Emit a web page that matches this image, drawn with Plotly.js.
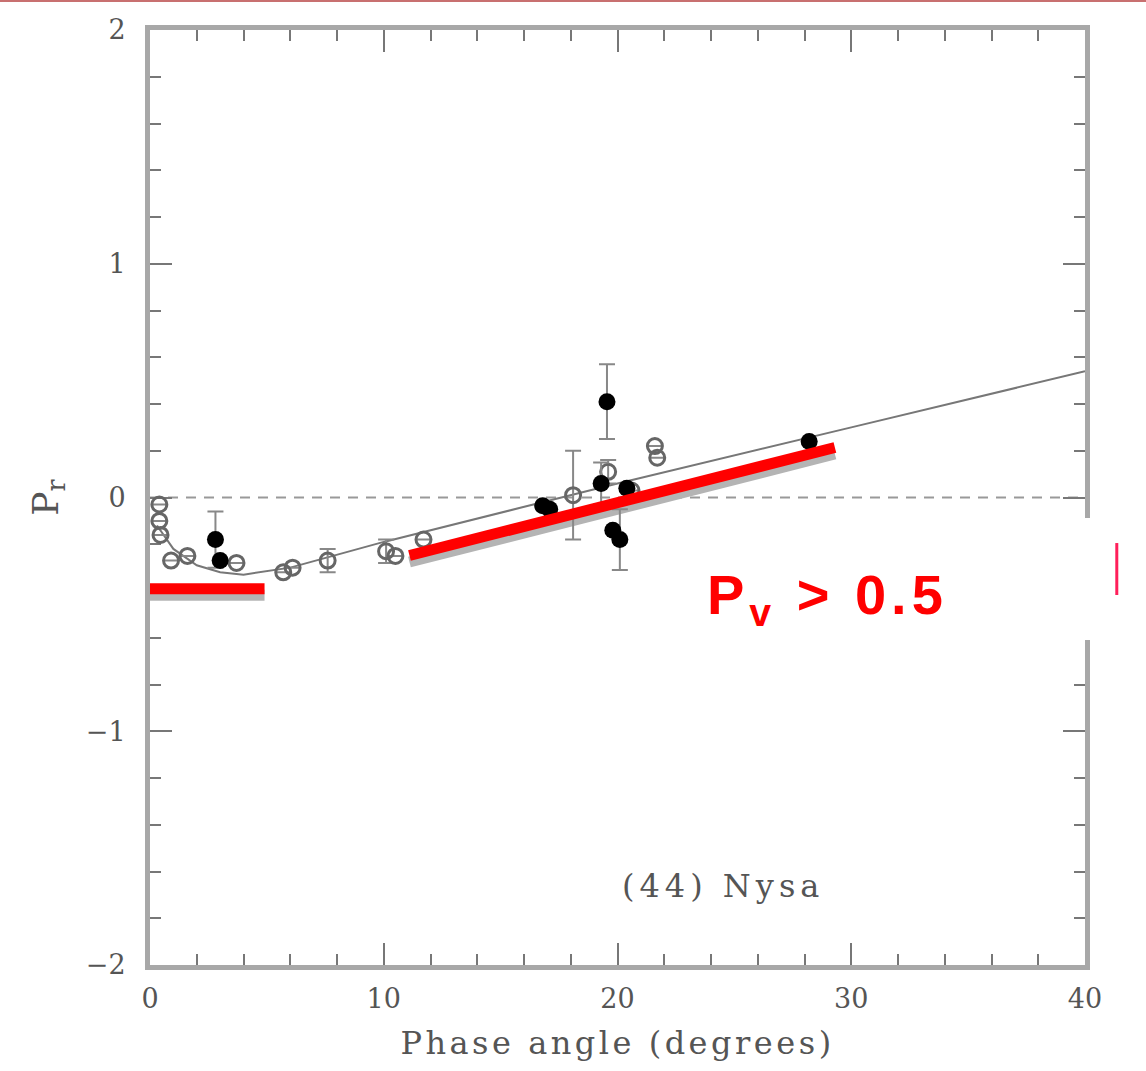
<!DOCTYPE html>
<html>
<head>
<meta charset="utf-8">
<script src="https://cdn.plot.ly/plotly-3.0.1.min.js"></script>
<style>
html,body{margin:0;padding:0;background:#fff;}
#chart{width:1146px;height:1071px;}
.xtitle{letter-spacing:3.5px;}
.annotation-text{letter-spacing:5px;}
</style>
</head>
<body>
<div id="chart"></div>
<script>
// Open-symbol observations (phase angle deg, Pr %, error)
const openX   = [0.4, 0.4, 0.45, 0.9, 1.6, 3.7, 5.7, 6.1, 7.6, 10.1, 10.5, 11.7, 18.1, 19.6, 20.6, 21.6, 21.7];
const openY   = [-0.03, -0.10, -0.16, -0.27, -0.25, -0.28, -0.32, -0.30, -0.27, -0.23, -0.25, -0.18, 0.01, 0.11, 0.03, 0.22, 0.17];
const openErr = [0, 0, 0, 0, 0, 0, 0, 0, 0.05, 0.05, 0, 0, 0.19, 0.05, 0, 0, 0];

// Filled-symbol observations
const fillX   = [2.8, 3.0, 16.8, 17.1, 19.55, 19.3, 20.4, 19.8, 20.1, 28.2];
const fillY   = [-0.18, -0.27, -0.035, -0.05, 0.41, 0.06, 0.04, -0.14, -0.18, 0.24];
const fillErr = [0.12, 0, 0, 0, 0.16, 0.09, 0, 0, 0.13, 0];

// Fitted phase curve
const fitX = [0.3, 1, 2, 3, 4, 6, 10, 20, 30, 40];
const fitY = [-0.12, -0.22, -0.29, -0.32, -0.33, -0.30, -0.19, 0.06, 0.30, 0.54];

// Highlighted red segments
const red1X = [0, 4.9];
const red1Y = [-0.39, -0.39];
const red2X = [11.1, 29.3];
const red2Y = [-0.248, 0.214];

const shadowOffset = 0.028;
const shift = arr => arr.map(v => v - shadowOffset);

const serif = 'DejaVu Serif, Liberation Serif, serif';

const traces = [
  {x: fitX, y: fitY, mode: 'lines', line: {color: '#777', width: 2}, hoverinfo: 'skip', showlegend: false},
  {x: red1X, y: shift(red1Y), mode: 'lines', line: {color: '#b4b4b4', width: 11}, showlegend: false},
  {x: red2X, y: shift(red2Y), mode: 'lines', line: {color: '#b4b4b4', width: 11}, showlegend: false},
  {x: openX, y: openY, mode: 'markers', name: 'open',
   error_y: {type: 'data', array: openErr, visible: true, color: '#888', thickness: 2, width: 8},
   marker: {symbol: 'circle-open', size: 15, color: '#666', line: {color: '#666', width: 3}}, showlegend: false},
  {x: fillX, y: fillY, mode: 'markers', name: 'filled',
   error_y: {type: 'data', array: fillErr, visible: true, color: '#888', thickness: 2, width: 8},
   marker: {symbol: 'circle', size: 17, color: '#000'}, showlegend: false},
  {x: red1X, y: red1Y, mode: 'lines', line: {color: '#ff0000', width: 11}, showlegend: false},
  {x: red2X, y: red2Y, mode: 'lines', line: {color: '#ff0000', width: 11}, showlegend: false}
];

const axisCommon = {
  showgrid: false, zeroline: false,
  showline: true, linecolor: '#a8a8a8', linewidth: 5, mirror: 'allticks',
  ticks: 'inside', ticklen: 22, tickwidth: 2, tickcolor: '#777',
  tickfont: {family: serif, size: 27, color: '#555'},
  layer: 'below traces'
};

const layout = {
  width: 1146, height: 1071,
  margin: {l: 150, r: 61, t: 30, b: 106},
  paper_bgcolor: '#fff', plot_bgcolor: '#fff',
  showlegend: false,
  xaxis: Object.assign({}, axisCommon, {
    range: [0, 40], dtick: 10, tick0: 0,
    minor: {dtick: 2, ticks: 'inside', ticklen: 11, tickwidth: 2, tickcolor: '#777'},
    ticklabelstandoff: 6,
    title: {text: 'Phase angle (degrees)', font: {family: serif, size: 32, color: '#555'}, standoff: 20}
  }),
  yaxis: Object.assign({}, axisCommon, {
    range: [-2, 2], dtick: 1, tick0: 0,
    minor: {dtick: 0.2, ticks: 'inside', ticklen: 11, tickwidth: 2, tickcolor: '#777'},
    ticklabelstandoff: 14,
    title: {text: 'P<sub>r</sub>', font: {family: serif, size: 36, color: '#555'}, standoff: 18}
  }),
  shapes: [
    {type: 'line', xref: 'paper', yref: 'y', x0: 0, x1: 1, y0: 0, y1: 0, layer: 'below',
     line: {color: '#999', width: 2, dash: '10px,8px'}},
    {type: 'rect', xref: 'paper', yref: 'paper', x0: 0.5775, x1: 1.034, y0: 0.3476, y1: 0.478,
     fillcolor: '#fff', line: {width: 0}, layer: 'above'},
    {type: 'line', xref: 'paper', yref: 'paper', x0: 1.034, x1: 1.034, y0: 0.3957, y1: 0.4513,
     line: {color: '#ff1f5a', width: 3}, layer: 'above'},
    {type: 'line', xref: 'paper', yref: 'paper', x0: -0.17, x1: 1.07, y0: 1.031, y1: 1.031,
     line: {color: '#c87070', width: 2}, layer: 'above'}
  ],
  annotations: [
    {x: 24.5, y: -1.66, xref: 'x', yref: 'y', text: '(44) Nysa', showarrow: false,
     font: {family: serif, size: 32, color: '#555'}},
    {x: 0.594, y: 0.392, xref: 'paper', yref: 'paper', xanchor: 'left', yanchor: 'middle',
     text: 'P<sub>v</sub> > 0.5', showarrow: false,
     font: {family: 'Liberation Sans, Arial, sans-serif', size: 56, color: '#ff0000', weight: 'bold'}}
  ]
};

Plotly.newPlot('chart', traces, layout, {staticPlot: true, displayModeBar: false});
</script>
</body>
</html>
